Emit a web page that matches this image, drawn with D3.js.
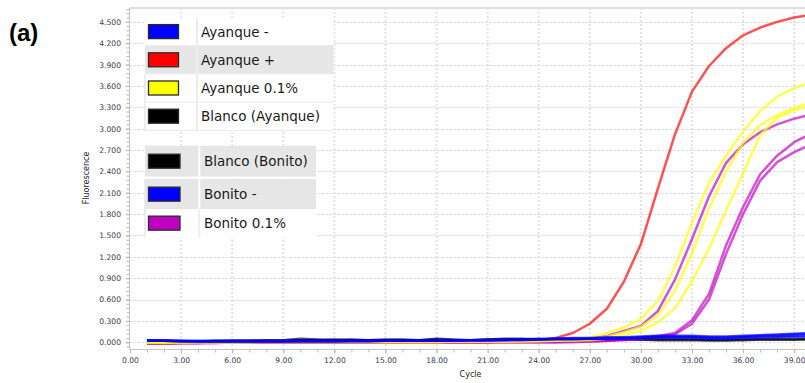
<!DOCTYPE html>
<html>
<head>
<meta charset="utf-8">
<script src="https://cdn.jsdelivr.net/npm/d3@7"></script>
<style>
  html, body { margin: 0; padding: 0; background: #fff; overflow: hidden; }
  svg { display: block; }
</style>
</head>
<body>
<svg id="chart" width="805" height="383"></svg>
<script>
// ---- data -------------------------------------------------------------
const cycles = [
  1, 2, 3, 4, 5, 6, 7, 8, 9, 10,
  11, 12, 13, 14, 15, 16, 17, 18, 19, 20,
  21, 22, 23, 24, 25, 26, 27, 28, 29, 30,
  31, 32, 33, 34, 35, 36, 37, 38, 39, 40
];

const yTickValues = [0, 0.3, 0.6, 0.9, 1.2, 1.5, 1.8, 2.1, 2.4, 2.7, 3.0, 3.3, 3.6, 3.9, 4.2, 4.5];
const xTickValues = [0, 3, 6, 9, 12, 15, 18, 21, 24, 27, 30, 33, 36, 39];

// Ayanque - (negative control, blue)
const ayanqueNeg1 = [
  0.03, 0.03, 0.02, 0.02, 0.02, 0.02, 0.02, 0.02, 0.02, 0.02,
  0.02, 0.02, 0.02, 0.02, 0.02, 0.02, 0.02, 0.02, 0.02, 0.03,
  0.03, 0.03, 0.04, 0.04, 0.05, 0.05, 0.05, 0.06, 0.06, 0.07,
  0.08, 0.08, 0.08, 0.07, 0.07, 0.08, 0.09, 0.10, 0.11, 0.12
];
const ayanqueNeg2 = [
  0.02, 0.02, 0.01, 0.01, 0.01, 0.01, 0.01, 0.01, 0.01, 0.01,
  0.01, 0.01, 0.02, 0.02, 0.02, 0.02, 0.02, 0.02, 0.03, 0.03,
  0.03, 0.04, 0.04, 0.04, 0.05, 0.05, 0.05, 0.05, 0.06, 0.06,
  0.06, 0.06, 0.06, 0.05, 0.05, 0.06, 0.06, 0.07, 0.07, 0.08
];
// Ayanque + (positive control, red)
const ayanquePos = [
  -0.02, -0.02, -0.01, -0.01, 0.00, 0.00, 0.00, 0.00, 0.00, 0.00,
  0.00, 0.00, 0.00, 0.00, 0.01, 0.01, 0.01, 0.01, 0.01, 0.01,
  0.02, 0.02, 0.02, 0.03, 0.06, 0.13, 0.26, 0.47, 0.85, 1.38,
  2.16, 2.92, 3.52, 3.88, 4.13, 4.31, 4.42, 4.50, 4.56, 4.60
];
// Ayanque 0.1% (yellow)
const ayanque01a = [
  0.00, -0.01, -0.01, 0.00, 0.00, 0.00, 0.01, 0.01, 0.01, 0.01,
  0.01, 0.01, 0.01, 0.01, 0.01, 0.01, 0.01, 0.01, 0.01, 0.01,
  0.01, 0.01, 0.02, 0.02, 0.03, 0.04, 0.07, 0.13, 0.21, 0.33,
  0.58, 1.06, 1.68, 2.24, 2.62, 2.96, 3.25, 3.45, 3.57, 3.66
];
const ayanque01b = [
  0.00, 0.00, 0.00, 0.00, 0.00, 0.00, 0.00, 0.01, 0.01, 0.01,
  0.01, 0.01, 0.01, 0.01, 0.01, 0.01, 0.01, 0.01, 0.01, 0.01,
  0.01, 0.01, 0.01, 0.02, 0.02, 0.03, 0.04, 0.08, 0.14, 0.22,
  0.38, 0.72, 1.25, 1.88, 2.40, 2.80, 3.05, 3.19, 3.29, 3.37
];
const ayanque01c = [
  -0.01, -0.01, 0.00, 0.00, 0.00, 0.00, 0.00, 0.00, 0.00, 0.00,
  0.00, 0.00, 0.00, 0.00, 0.00, 0.00, 0.00, 0.00, 0.01, 0.01,
  0.01, 0.01, 0.01, 0.01, 0.02, 0.02, 0.03, 0.05, 0.10, 0.16,
  0.28, 0.48, 0.86, 1.32, 1.85, 2.37, 2.91, 3.15, 3.26, 3.32
];
// Blanco (Ayanque) (black)
const blancoAyanque = [
  0.01, 0.01, 0.01, 0.01, 0.02, 0.02, 0.02, 0.03, 0.03, 0.05,
  0.04, 0.03, 0.04, 0.03, 0.04, 0.04, 0.03, 0.05, 0.04, 0.03,
  0.04, 0.05, 0.05, 0.04, 0.04, 0.04, 0.04, 0.04, 0.04, 0.04,
  0.04, 0.04, 0.04, 0.03, 0.03, 0.04, 0.04, 0.04, 0.04, 0.05
];
// Blanco (Bonito) (black)
const blancoBonito = [
  0.01, 0.01, 0.01, 0.01, 0.01, 0.02, 0.02, 0.02, 0.02, 0.03,
  0.03, 0.04, 0.03, 0.03, 0.03, 0.03, 0.03, 0.04, 0.03, 0.03,
  0.04, 0.04, 0.04, 0.04, 0.04, 0.04, 0.03, 0.03, 0.04, 0.04,
  0.03, 0.03, 0.03, 0.03, 0.03, 0.03, 0.04, 0.04, 0.04, 0.04
];
// Bonito - (blue)
const bonitoNeg1 = [
  0.02, 0.02, 0.01, 0.01, 0.01, 0.01, 0.01, 0.01, 0.01, 0.02,
  0.02, 0.02, 0.02, 0.02, 0.02, 0.02, 0.02, 0.03, 0.03, 0.03,
  0.03, 0.04, 0.04, 0.05, 0.05, 0.06, 0.06, 0.07, 0.07, 0.08,
  0.09, 0.09, 0.09, 0.08, 0.08, 0.09, 0.10, 0.11, 0.12, 0.13
];
const bonitoNeg2 = [
  0.03, 0.02, 0.02, 0.01, 0.01, 0.01, 0.01, 0.01, 0.01, 0.01,
  0.01, 0.01, 0.01, 0.01, 0.02, 0.02, 0.02, 0.02, 0.02, 0.03,
  0.03, 0.03, 0.03, 0.04, 0.04, 0.04, 0.05, 0.05, 0.05, 0.06,
  0.07, 0.07, 0.07, 0.06, 0.06, 0.07, 0.08, 0.08, 0.09, 0.10
];
// Bonito 0.1% (magenta)
const bonito01a = [
  -0.02, -0.02, -0.01, -0.01, -0.01, 0.00, 0.00, 0.00, 0.00, 0.00,
  0.00, 0.00, 0.00, 0.00, 0.00, 0.00, 0.00, 0.00, 0.00, 0.00,
  0.00, 0.01, 0.01, 0.01, 0.02, 0.03, 0.05, 0.09, 0.16, 0.23,
  0.44, 0.88, 1.45, 2.05, 2.52, 2.78, 2.95, 3.06, 3.14, 3.20
];
const bonito01b = [
  -0.01, -0.01, -0.01, -0.01, 0.00, 0.00, 0.00, 0.00, 0.00, 0.00,
  0.00, 0.00, 0.00, 0.00, 0.00, 0.00, 0.00, 0.00, 0.00, 0.00,
  0.00, 0.00, 0.00, 0.00, 0.00, 0.01, 0.01, 0.02, 0.04, 0.06,
  0.09, 0.13, 0.31, 0.68, 1.36, 1.90, 2.36, 2.62, 2.81, 2.93
];
const bonito01c = [
  -0.01, -0.02, -0.01, -0.01, -0.01, 0.00, 0.00, 0.00, 0.00, 0.00,
  0.00, 0.00, 0.00, 0.00, 0.00, 0.00, 0.00, 0.00, 0.00, 0.00,
  0.00, 0.00, 0.00, 0.00, 0.00, 0.00, 0.01, 0.02, 0.03, 0.05,
  0.07, 0.11, 0.26, 0.60, 1.24, 1.80, 2.27, 2.53, 2.67, 2.78
];

const legendTop = [
  { label: "Ayanque -", color: "#0000ff" },
  { label: "Ayanque +", color: "#ff0000" },
  { label: "Ayanque 0.1%", color: "#ffff00" },
  { label: "Blanco (Ayanque)", color: "#000000" }
];
const legendBottom = [
  { label: "Blanco (Bonito)", color: "#000000" },
  { label: "Bonito -", color: "#0000ff" },
  { label: "Bonito 0.1%", color: "#c000c0" }
];

// ---- drawing ------------------------------------------------------------
const svg = d3.select("#chart");
const x = d3.scaleLinear().domain([0, 40]).range([130, 811.2]);
const y = d3.scaleLinear().domain([-0.1, 4.7]).range([349.4, 7.6]);

const plotLeft = 129.5, plotBottom = 349.5, plotTop = 8, plotRight = 805;

// panel letter
svg.append("text")
  .attr("x", 9).attr("y", 41)
  .attr("font-family", "Liberation Sans, Arial, sans-serif")
  .attr("font-weight", "bold").attr("font-size", 24)
  .attr("fill", "#000").text("(a)");

// top frame line
svg.append("line")
  .attr("x1", plotLeft).attr("x2", plotRight)
  .attr("y1", plotTop).attr("y2", plotTop)
  .attr("stroke", "#dedede").attr("stroke-width", 2);

// grid
const grid = svg.append("g");
grid.selectAll("line.h").data(yTickValues).join("line")
  .attr("class", "h")
  .attr("x1", plotLeft).attr("x2", plotRight)
  .attr("y1", d => Math.round(y(d)) + 0.5).attr("y2", d => Math.round(y(d)) + 0.5)
  .attr("stroke", "#d2d2d2").attr("stroke-width", 1)
  .attr("stroke-dasharray", "2,2");
grid.selectAll("line.v").data(xTickValues.filter(d => d > 0)).join("line")
  .attr("class", "v")
  .attr("x1", d => x(d)).attr("x2", d => x(d))
  .attr("y1", plotTop).attr("y2", plotBottom)
  .attr("stroke", "#e2e2e2").attr("stroke-width", 2)
  .attr("stroke-dasharray", "2,2");

// axes
const tickFont = "DejaVu Sans, Verdana, sans-serif";
const yMinor = d3.range(-0.06, 4.69, 0.06);
const xMinor = d3.range(1, 40, 1);

const yMinorAxis = svg.append("g").attr("transform", `translate(${plotLeft},0)`)
  .call(d3.axisLeft(y).tickValues(yMinor).tickSize(3).tickFormat(""));
const yAxis = svg.append("g").attr("transform", `translate(${plotLeft},0)`)
  .call(d3.axisLeft(y).tickValues(yTickValues).tickSize(4).tickSizeOuter(0)
    .tickPadding(4.5).tickFormat(d3.format(".3f")));
const xMinorAxis = svg.append("g").attr("transform", `translate(0,${plotBottom})`)
  .call(d3.axisBottom(x).tickValues(xMinor).tickSize(3).tickFormat(""));
const xAxis = svg.append("g").attr("transform", `translate(0,${plotBottom})`)
  .call(d3.axisBottom(x).tickValues(xTickValues).tickSize(4).tickSizeOuter(0)
    .tickPadding(4.5).tickFormat(d3.format(".2f")));

[yMinorAxis, yAxis, xMinorAxis, xAxis].forEach(g => {
  g.selectAll("path.domain").remove();
  g.selectAll(".tick line").attr("stroke", "#b8b8b8");
  g.selectAll(".tick text")
    .attr("font-family", tickFont).attr("font-size", 7.6)
    .attr("fill", "#383c4c");
});
svg.append("line")
  .attr("x1", plotLeft).attr("x2", plotLeft)
  .attr("y1", plotTop).attr("y2", plotBottom)
  .attr("stroke", "#c4c4c4");
svg.append("line")
  .attr("x1", plotLeft).attr("x2", plotRight)
  .attr("y1", plotBottom).attr("y2", plotBottom)
  .attr("stroke", "#c4c4c4");

// axis titles
svg.append("text")
  .attr("transform", "translate(89,178) rotate(-90)")
  .attr("text-anchor", "middle")
  .attr("font-family", tickFont).attr("font-size", 8)
  .attr("fill", "#222").text("Fluorescence");
svg.append("text")
  .attr("x", 470.5).attr("y", 377)
  .attr("text-anchor", "middle")
  .attr("font-family", tickFont).attr("font-size", 8)
  .attr("fill", "#222").text("Cycle");

// amplification curves
const curves = [
  { values: blancoAyanque, color: "#000000" },
  { values: blancoBonito, color: "#000000" },
  { values: ayanquePos, color: "#ff0000" },
  { values: bonito01c, color: "#c000c0" },
  { values: bonito01b, color: "#c000c0" },
  { values: bonito01a, color: "#c000c0" },
  { values: ayanque01c, color: "#ffff00" },
  { values: ayanque01b, color: "#ffff00" },
  { values: ayanque01a, color: "#ffff00" },
  { values: bonitoNeg2, color: "#0000ff" },
  { values: ayanqueNeg2, color: "#0000ff" },
  { values: bonitoNeg1, color: "#0000ff" },
  { values: ayanqueNeg1, color: "#0000ff" }
];
svg.append("clipPath").attr("id", "plotClip")
  .append("rect").attr("x", plotLeft).attr("y", plotTop)
  .attr("width", plotRight - plotLeft).attr("height", plotBottom - plotTop);

const line = d3.line()
  .x((d, i) => x(cycles[i]))
  .y(d => y(d));
svg.append("g").attr("clip-path", "url(#plotClip)")
  .selectAll("path").data(curves).join("path")
  .attr("d", d => line(d.values))
  .attr("fill", "none")
  .attr("stroke", d => d.color)
  .attr("stroke-width", 2.5)
  .attr("stroke-opacity", 0.68)
  .attr("stroke-linejoin", "round");

// legend: upper block
const legendFont = "DejaVu Sans, Verdana, sans-serif";
const upper = svg.append("g");
const upRows = [17.5, 45.7, 73.9, 102.1];
const upH = 28.2, upLeft = 145, upRight = 333.5, upSplit = 197;
upper.selectAll("rect.bg").data(legendTop).join("rect")
  .attr("class", "bg")
  .attr("x", upLeft).attr("y", (d, i) => upRows[i])
  .attr("width", upRight - upLeft).attr("height", upH)
  .attr("fill", (d, i) => i === 1 ? "#e6e6e6" : "#ffffff");
upper.selectAll("line.sep").data([45.7, 73.9, 102.1, 130.3]).join("line")
  .attr("class", "sep")
  .attr("x1", upLeft).attr("x2", upRight)
  .attr("y1", d => d).attr("y2", d => d)
  .attr("stroke", "#ececec").attr("stroke-width", 1.2);
upper.append("line")
  .attr("x1", upSplit).attr("x2", upSplit)
  .attr("y1", upRows[0]).attr("y2", 130.3)
  .attr("stroke", "#ececec").attr("stroke-width", 2);
upper.append("line")
  .attr("x1", upLeft).attr("x2", upLeft)
  .attr("y1", upRows[2]).attr("y2", 130.3)
  .attr("stroke", "#e6e6e6").attr("stroke-width", 1.5);
upper.selectAll("rect.sw").data(legendTop).join("rect")
  .attr("class", "sw")
  .attr("x", 148.5).attr("y", (d, i) => upRows[i] + upH / 2 - 7)
  .attr("width", 30).attr("height", 14)
  .attr("fill", d => d.color)
  .attr("stroke", "#2a2a2a").attr("stroke-width", 1.3);
upper.selectAll("text").data(legendTop).join("text")
  .attr("x", 201).attr("y", (d, i) => upRows[i] + upH / 2 + 5.2)
  .attr("font-family", legendFont).attr("font-size", 13.5)
  .attr("fill", "#1a1a1a").text(d => d.label);

// legend: lower block
const lower = svg.append("g");
const loRows = [145.7, 179, 209.3];
const loH = [31, 30.3, 27.7];
const loLeft = 145, loRight = 316, loSplit = 199.3;
lower.selectAll("rect.bg").data(legendBottom).join("rect")
  .attr("class", "bg")
  .attr("x", loLeft).attr("y", (d, i) => loRows[i])
  .attr("width", loRight - loLeft).attr("height", (d, i) => loH[i])
  .attr("fill", (d, i) => i < 2 ? "#e6e6e6" : "#ffffff");
lower.append("rect")
  .attr("x", loLeft).attr("y", 176.7).attr("width", loRight - loLeft).attr("height", 2.3)
  .attr("fill", "#ffffff");
lower.append("line")
  .attr("x1", loSplit).attr("x2", loSplit)
  .attr("y1", loRows[0]).attr("y2", loRows[1] + loH[1])
  .attr("stroke", "#ffffff").attr("stroke-width", 2);
lower.append("line")
  .attr("x1", loSplit).attr("x2", loSplit)
  .attr("y1", loRows[2]).attr("y2", loRows[2] + loH[2])
  .attr("stroke", "#ececec").attr("stroke-width", 2);
lower.append("line")
  .attr("x1", loLeft).attr("x2", loLeft)
  .attr("y1", loRows[1]).attr("y2", loRows[2] + loH[2])
  .attr("stroke", "#e6e6e6").attr("stroke-width", 1.5);
lower.selectAll("rect.sw").data(legendBottom).join("rect")
  .attr("class", "sw")
  .attr("x", 148.5).attr("y", (d, i) => loRows[i] + loH[i] / 2 - 7)
  .attr("width", 31.5).attr("height", 14)
  .attr("fill", d => d.color)
  .attr("stroke", "#2a2a2a").attr("stroke-width", 1.3);
lower.selectAll("text").data(legendBottom).join("text")
  .attr("x", 204).attr("y", (d, i) => loRows[i] + loH[i] / 2 + 5.2)
  .attr("font-family", legendFont).attr("font-size", 13.5)
  .attr("fill", "#1a1a1a").text(d => d.label);
</script>
</body>
</html>
